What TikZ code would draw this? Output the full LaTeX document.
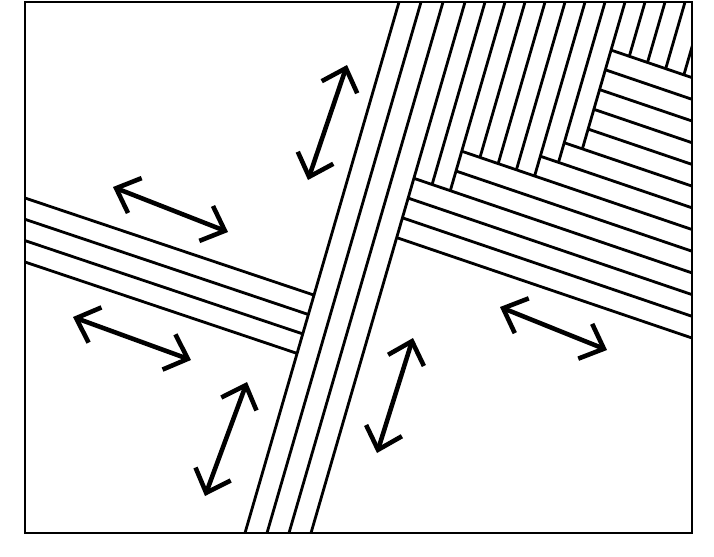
\documentclass[tikz,border=0pt]{standalone}
\usepackage{tikz}
\usetikzlibrary{arrows.meta}
\tikzset{
    stripline/.style={line width=1.6pt},
    slidearrow/.style={line width=2.6pt, line cap=round, line join=round,
        {Straight Barb[angle=86:0.55cm]}-{Straight Barb[angle=86:0.55cm]}},
}
\begin{document}
\begin{tikzpicture}[x=0.02cm,y=-0.02cm]
    \useasboundingbox (0,0) rectangle (714,556);
    \begin{scope}
    \clip (25,2) rectangle (692,533);
    %long band
    \draw[stripline] (399.6,0) -- (245.0,533);
    \draw[stripline] (421.6,0) -- (267.0,533);
    \draw[stripline] (443.6,0) -- (289.0,533);
    \draw[stripline] (465.6,0) -- (311.0,533);

    %upper right, steep strips
    \draw[stripline] (485.6,0) -- (432.1,184.5);
    \draw[stripline] (505.6,0) -- (450.3,190.7);
    \draw[stripline] (525.6,0) -- (480.0,157.4);
    \draw[stripline] (545.6,0) -- (498.2,163.6);
    \draw[stripline] (565.6,0) -- (516.4,169.8);
    \draw[stripline] (585.6,0) -- (534.6,176.0);
    \draw[stripline] (605.6,0) -- (558.5,162.4);
    \draw[stripline] (625.6,0) -- (582.4,148.8);
    \draw[stripline] (645.6,0) -- (629.3,56.3);
    \draw[stripline] (665.6,0) -- (647.5,62.5);
    \draw[stripline] (685.6,0) -- (665.7,68.7);
    \draw[stripline] (705.6,0) -- (683.9,74.8);

    %upper right, flat strips
    \draw[stripline] (396.7,237.6) -- (692,338);
    \draw[stripline] (402.4,217.8) -- (692,316.3);
    \draw[stripline] (408.2,198.1) -- (692,294.6);
    \draw[stripline] (413.9,178.3) -- (692,272.9);
    \draw[stripline] (456.0,171.0) -- (692,251.2);
    \draw[stripline] (461.7,151.2) -- (692,229.5);
    \draw[stripline] (540.3,156.2) -- (692,207.8);
    \draw[stripline] (564.2,142.7) -- (692,186.1);
    \draw[stripline] (588.2,129.1) -- (692,164.4);
    \draw[stripline] (593.9,109.3) -- (692,142.7);
    \draw[stripline] (599.6,89.6) -- (692,121);
    \draw[stripline] (605.4,69.8) -- (692,99.3);
    \draw[stripline] (611.1,50.1) -- (692,77.6);

    %left band
    \draw[stripline] (25,198) -- (314.0,295.1);
    \draw[stripline] (25,219.3) -- (308.4,314.5);
    \draw[stripline] (25,240.6) -- (302.8,333.9);
    \draw[stripline] (25,262) -- (297.1,353.4);
    \end{scope}

    \draw[line width=1.3pt] (25,2) rectangle (692,533);

    %arrows
    \draw[slidearrow] (347,65) -- (308,180);
    \draw[slidearrow] (113,187) -- (228,232);
    \draw[slidearrow] (73,317) -- (191,360);
    \draw[slidearrow] (247,382) -- (205,496);
    \draw[slidearrow] (413,338) -- (377,453);
    \draw[slidearrow] (500,307) -- (607,350);
\end{tikzpicture}
\end{document}
